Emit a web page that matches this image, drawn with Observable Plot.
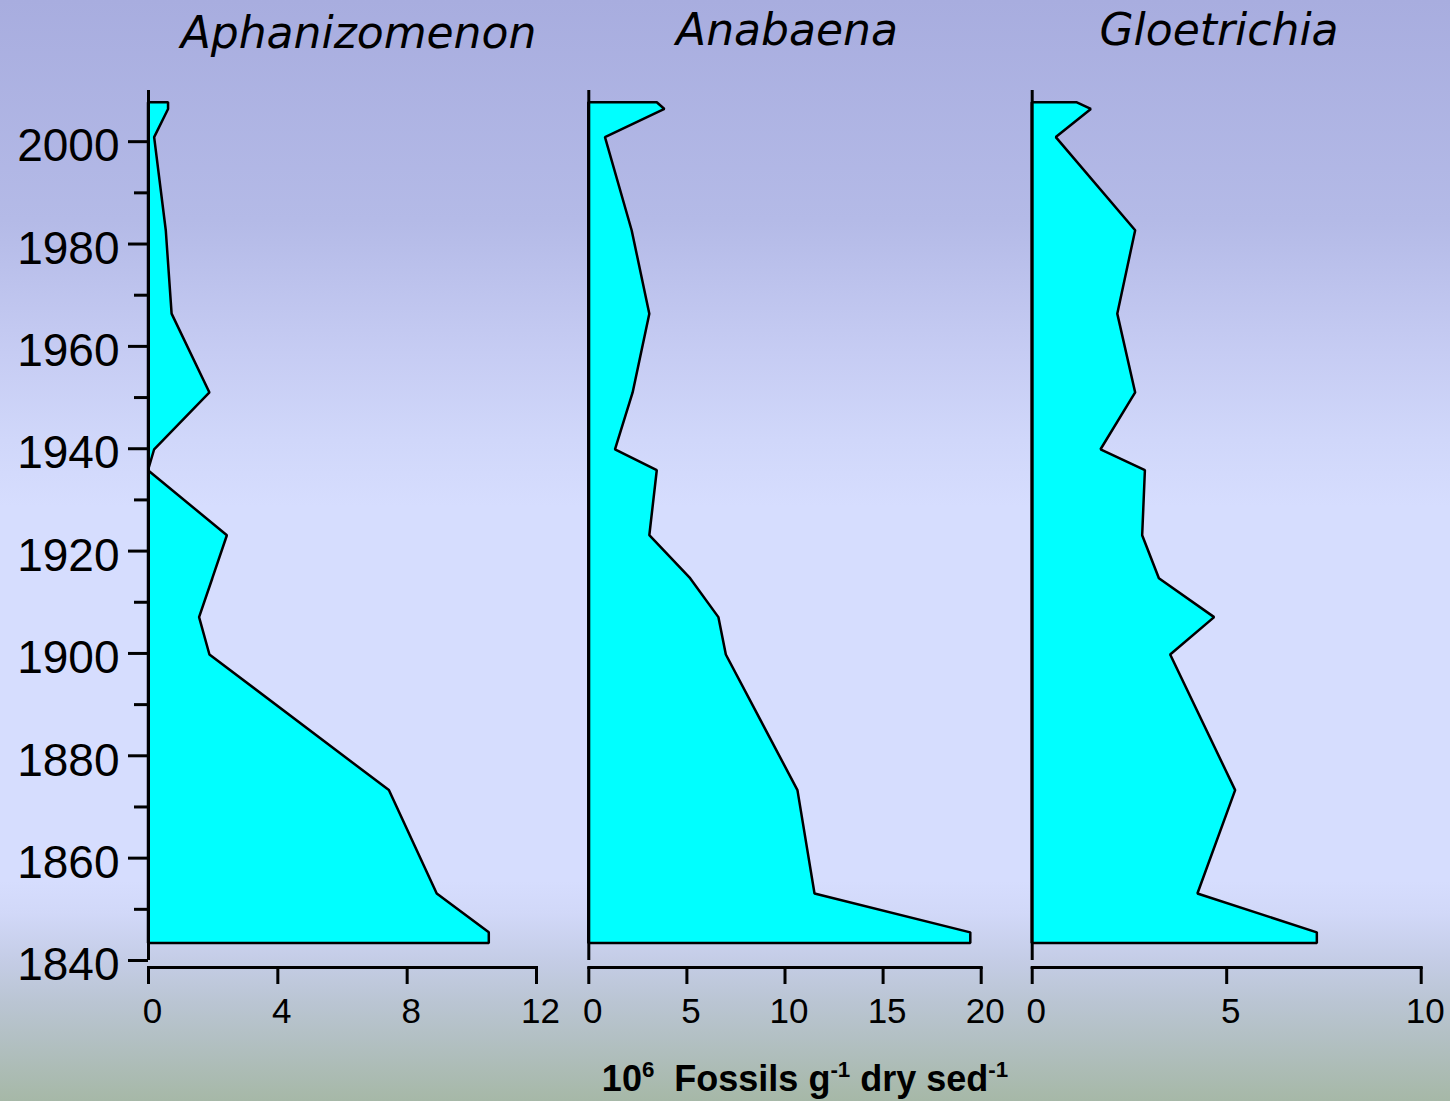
<!DOCTYPE html>
<html><head><meta charset="utf-8">
<script src="https://cdn.jsdelivr.net/npm/d3@7"></script>
<script src="https://cdn.jsdelivr.net/npm/@observablehq/plot@0.6"></script>
<style>
body{margin:0;}
#chart{position:relative;width:1450px;height:1101px;overflow:hidden;
background:linear-gradient(to bottom,#a8addf 0%,#b4bae7 20%,#c6ccf3 32%,#d0d7fa 40%,#d6ddfe 46%,#d6ddfe 80%,#d1d8f8 83%,#c5cde7 87%,#bac5d3 91%,#b1bfc0 95%,#a6b8a7 100%);}
.title{position:absolute;font-family:"DejaVu Sans",Verdana,sans-serif;font-style:italic;font-size:44px;line-height:44px;white-space:nowrap;transform:translateX(-50%);color:#000;}
.panel{position:absolute;top:0;}
.panel svg{overflow:visible;}
#xlabel{position:absolute;left:805px;top:1061px;transform:translateX(-50%);font-family:"Liberation Sans",Arial,sans-serif;font-weight:bold;font-size:36px;line-height:36px;white-space:nowrap;color:#000;}
#xlabel sup{font-size:0.62em;line-height:0;vertical-align:0.62em;}
</style></head>
<body>
<div id="chart"></div>
<script>
// Sample years (shared by the three taxa), top to bottom of the core
const years = [2007.6, 2006.3, 2000.8, 1982.6, 1966.3, 1950.9, 1939.8, 1935.7, 1923.0, 1914.6, 1907.0, 1899.7, 1873.2, 1853.0, 1845.4, 1843.3];
// 10^6 fossils per g dry sediment
const aphanizomenon = [0.62, 0.62, 0.19, 0.55, 0.73, 1.90, 0.19, 0.00, 2.44, 1.99, 1.58, 1.90, 7.45, 8.93, 10.54, 10.54];
const anabaena      = [3.49, 3.88, 0.85, 2.21, 3.11, 2.26, 1.36, 3.49, 3.11, 5.19, 6.63, 7.01, 10.66, 11.53, 19.47, 19.47];
const gloetrichia   = [1.16, 1.52, 0.62, 2.66, 2.20, 2.66, 1.77, 2.91, 2.84, 3.27, 4.69, 3.56, 5.23, 4.26, 7.33, 7.33];

const taxa = ["Aphanizomenon", "Anabaena", "Gloetrichia"];
const seriesValues = [aphanizomenon, anabaena, gloetrichia];
const xMax = [12, 20, 10];
const xTicks = [[0, 4, 8, 12], [0, 5, 10, 15, 20], [0, 5, 10]];
const yDomain = [1840, 2010];
const yMajorTicks = [1840, 1860, 1880, 1900, 1920, 1940, 1960, 1980, 2000];
const yMinorTicks = [1850, 1870, 1890, 1910, 1930, 1950, 1970, 1990];
const axisTitle = "10<sup>6</sup>&nbsp;&nbsp;Fossils g<sup>-1</sup> dry sed<sup>-1</sup>";

// layout (pixels)
const panels = [
  {left: 0,    width: 580, marginLeft: 148,  marginRight: 44,   titleX: 358.5, titleTop: 10.8},
  {left: 560,  width: 460, marginLeft: 28.3, marginRight: 39.3, titleX: 787,   titleTop: 7.8},
  {left: 1000, width: 450, marginLeft: 31.7, marginRight: 29.3, titleX: 1219,  titleTop: 7.8}
];

const chart = document.getElementById("chart");

panels.forEach((p, i) => {
  const data = years.map((year, j) => ({year, v: seriesValues[i][j]}));
  const marks = [
    Plot.areaX(data, {x1: 0, x2: "v", y: "year", fill: "#00ffff", stroke: "black", strokeWidth: 2.5, strokeLinejoin: "miter"}),
    Plot.ruleX([0], {y1: yDomain[0], y2: yDomain[1], stroke: "black", strokeWidth: 3}),
    Plot.frame({anchor: "bottom", stroke: "black", strokeWidth: 3}),
    Plot.axisX(xTicks[i], {tickSize: 17, fill: "none", strokeWidth: 3, label: null}),
    Plot.axisX(xTicks[i], {tickSize: 0, tickPadding: 31, dx: 4, fontSize: 35, label: null})
  ];
  if (i === 0) {
    marks.push(
      Plot.axisY(yMajorTicks, {anchor: "left", tickSize: 20, fill: "none", strokeWidth: 3, label: null}),
      Plot.axisY(yMinorTicks, {anchor: "left", tickSize: 14, fill: "none", strokeWidth: 3, label: null}),
      Plot.axisY(yMajorTicks, {anchor: "left", tickSize: 0, tickPadding: 29, dy: 5, fontSize: 46, tickFormat: "d", label: null})
    );
  }
  const plot = Plot.plot({
    width: p.width,
    height: 1040,
    marginTop: 90,
    marginBottom: 73,
    marginLeft: p.marginLeft,
    marginRight: p.marginRight,
    x: {domain: [0, xMax[i]]},
    y: {domain: yDomain, insetBottom: 7, ...(i === 0 ? {} : {axis: null})},
    style: {background: "transparent", fontFamily: "'Liberation Sans', Arial, sans-serif", color: "black", overflow: "visible"},
    marks
  });
  const wrap = document.createElement("div");
  wrap.className = "panel";
  wrap.style.left = p.left + "px";
  wrap.appendChild(plot);
  chart.appendChild(wrap);

  const t = document.createElement("div");
  t.className = "title";
  t.style.left = p.titleX + "px";
  t.style.top = p.titleTop + "px";
  t.textContent = taxa[i];
  chart.appendChild(t);
});

const xl = document.createElement("div");
xl.id = "xlabel";
xl.innerHTML = axisTitle;
chart.appendChild(xl);
</script>
</body></html>
